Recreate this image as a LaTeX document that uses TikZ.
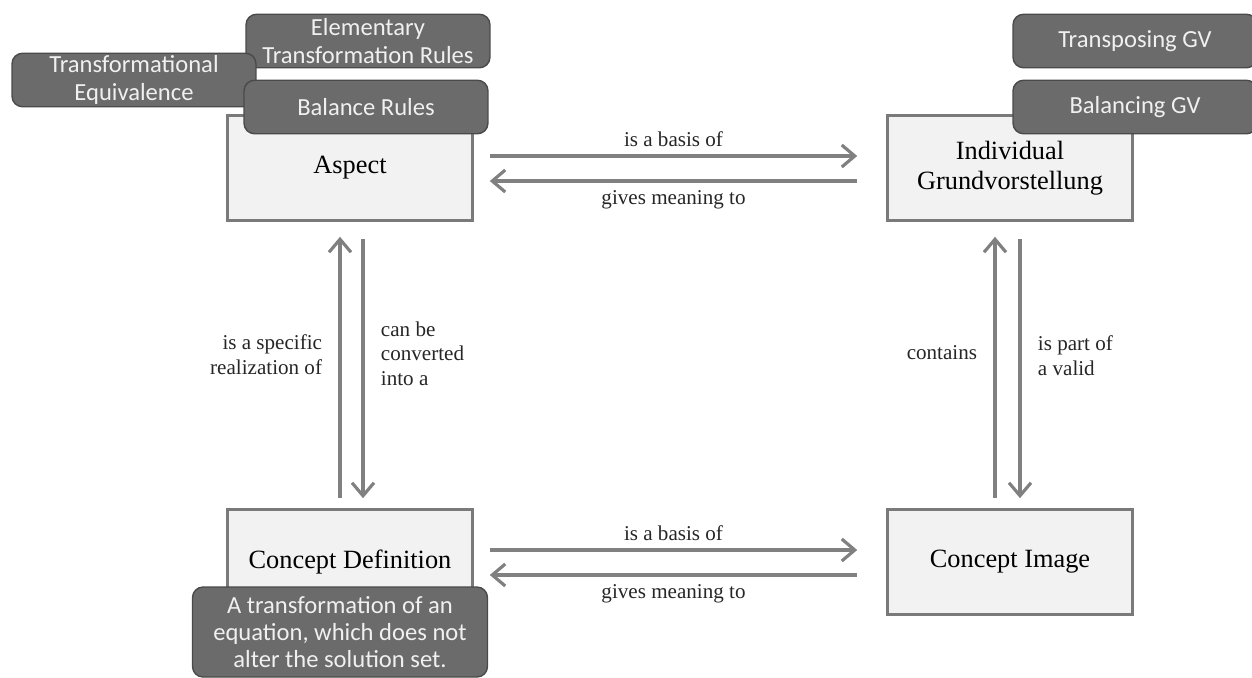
\documentclass[tikz,border=0pt]{standalone}
\usepackage{fontspec}
\setmainfont{Liberation Serif}
\newfontfamily\calibri{Carlito}
\usepackage{xcolor}
\usetikzlibrary{arrows.meta,positioning}

\definecolor{boxfill}{HTML}{F2F2F2}
\definecolor{boxline}{HTML}{7A7A7A}
\definecolor{darkfill}{HTML}{6B6B6B}
\definecolor{darkline}{HTML}{4A4A4A}
\definecolor{arrowgray}{HTML}{808080}

\begin{document}
\begin{tikzpicture}[x=0.02cm, y=-0.02cm,
  concept/.style={draw=boxline, fill=boxfill, line width=1.5pt, align=center, minimum width=4.9cm, minimum height=2.1cm, font=\fontsize{15}{17}\selectfont},
  tag/.style={draw=darkline, fill=darkfill, rounded corners=6pt, line width=0.8pt, align=center, text=white!94!black, minimum width=4.88cm, minimum height=1.07cm, inner sep=1pt, font=\calibri\fontsize{14}{15.5}\selectfont},
  arr/.style={draw=arrowgray, line width=1.8pt, -{Straight Barb[length=0.26cm, width=0.44cm]}},
  lbl/.style={font=\fontsize{12}{14}\selectfont, text=black!85}]
\useasboundingbox (0,0) rectangle (1252,677);

% main concepts
\node[concept] (aspect) at (350,168) {Aspect};
\node[concept] (igv) at (1010,168) {Individual\\Grundvorstellung};
\node[concept] (cdef) at (350,562) {Concept Definition};
\node[concept] (cimg) at (1010,562) {Concept Image};

% dark tags
\node[tag] (etr) at (368,41) {Elementary\\Transformation Rules};
\node[tag] (teq) at (134,80) {Transformational\\Equivalence};
\node[tag] (bal) at (366,107) {Balance Rules};
\node[tag] (tgv) at (1135,41) {Transposing GV};
\node[tag] (bgv) at (1135,107) {Balancing GV};
\node[tag, minimum width=5.9cm, minimum height=1.8cm] (defn) at (340,632) {A transformation of an\\equation, which does not\\alter the solution set.};

% top pair
\draw[arr] ([xshift=0.32cm, yshift=0.24cm]aspect.east) -- ([xshift=-0.58cm, yshift=0.24cm]igv.west)
  node[lbl, midway, above=1pt] {is a basis of};
\draw[arr] ([xshift=-0.58cm, yshift=-0.26cm]igv.west) -- ([xshift=0.32cm, yshift=-0.26cm]aspect.east)
  node[lbl, midway, below=1pt] {gives meaning to};

% bottom pair
\draw[arr] ([xshift=0.32cm, yshift=0.24cm]cdef.east) -- ([xshift=-0.58cm, yshift=0.24cm]cimg.west)
  node[lbl, midway, above=1pt] {is a basis of};
\draw[arr] ([xshift=-0.58cm, yshift=-0.26cm]cimg.west) -- ([xshift=0.32cm, yshift=-0.26cm]cdef.east)
  node[lbl, midway, below=1pt] {gives meaning to};

% left pair
\draw[arr] ([xshift=-0.2cm, yshift=0.2cm]cdef.north) -- ([xshift=-0.2cm, yshift=-0.3cm]aspect.south)
  node[lbl, midway, left=6pt, align=right, yshift=0.26cm] {is a specific\\realization of};
\draw[arr] ([xshift=0.26cm, yshift=-0.34cm]aspect.south) -- ([xshift=0.26cm, yshift=0.2cm]cdef.north)
  node[lbl, midway, right=6pt, align=left, yshift=0.3cm] {can be\\converted\\into a};

% right pair
\draw[arr] ([xshift=-0.3cm, yshift=0.2cm]cimg.north) -- ([xshift=-0.3cm, yshift=-0.3cm]igv.south)
  node[lbl, midway, left=6pt, yshift=0.3cm] {contains};
\draw[arr] ([xshift=0.2cm, yshift=-0.34cm]igv.south) -- ([xshift=0.2cm, yshift=0.2cm]cimg.north)
  node[lbl, midway, right=6pt, align=left, yshift=0.26cm] {is part of\\a valid};
\end{tikzpicture}
\end{document}
